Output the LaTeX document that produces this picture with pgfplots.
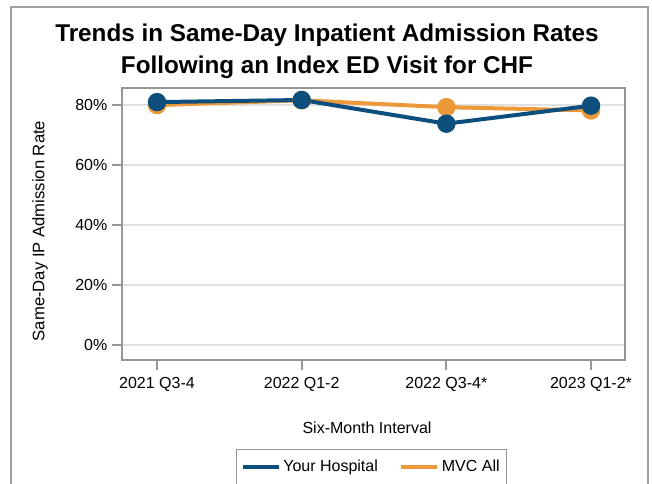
\documentclass[border=0pt]{standalone}
\usepackage{pgfplots}
\pgfplotsset{compat=1.18}
\usepackage{fontspec}
\setmainfont{Liberation Sans}
\definecolor{yh}{RGB}{13,79,124}
\definecolor{mvc}{RGB}{236,154,57}
\definecolor{framegray}{RGB}{160,160,160}
\definecolor{axgray}{RGB}{150,150,150}
\definecolor{gridgray}{RGB}{225,225,225}
\begin{document}
\begin{tikzpicture}
\useasboundingbox (0pt,0pt) rectangle (489pt,363pt);
\clip (0pt,0pt) rectangle (489pt,363pt);
\draw[framegray, line width=1.5pt] (8.25pt,357.75pt) rectangle (486pt,-20pt);
\node[font=\bfseries\fontsize{18.2}{24}\selectfont, align=center] at (245.25pt,324.75pt)
  {Trends in Same-Day Inpatient Admission Rates\\Following an Index ED Visit for CHF};
\node[rotate=90, font=\fontsize{12.5}{14}\selectfont] at (30pt,189.75pt) {Same-Day IP Admission Rate};
\node[font=\fontsize{12}{14}\selectfont] at (275.25pt,42pt) {Six-Month Interval};
\begin{axis}[
  at={(91.5pt,93pt)}, anchor=south west,
  width=377.25pt, height=204pt, scale only axis,
  xmin=-0.242, xmax=3.235, ymin=-5, ymax=85.7,
  xtick={0,1,2,3},
  xticklabels={2021 Q3-4,2022 Q1-2,2022 Q3-4*,2023 Q1-2*},
  ytick={0,20,40,60,80},
  yticklabel={\pgfmathprintnumber{\tick}\%},
  /pgf/number format/assume math mode=true,
  ticklabel style={font=\fontsize{12}{14}\selectfont},
  xtick pos=bottom, ytick pos=left,
  tick align=outside,
  major tick length=7.5pt,
  tick style={axgray, line width=1.5pt},
  axis line style={axgray, line width=1.5pt},
  ymajorgrids, major grid style={gridgray, line width=1.2pt},
  xticklabel style={yshift=-2pt},
  legend style={at={(0.2266,-0.327)}, anchor=north west, draw=axgray, line width=1pt,
    font=\fontsize{12}{14}\selectfont, inner ysep=6pt, inner xsep=3pt,
    /tikz/every even column/.append style={column sep=14pt}},
  legend columns=2,
  legend cell align=left,
]
\addlegendimage{legend image code/.code={\draw[yh, line width=3pt] (0pt,0pt) -- (27pt,0pt);}}
\addlegendentry{Your Hospital}
\addlegendimage{legend image code/.code={\draw[mvc, line width=3pt] (0pt,0pt) -- (27pt,0pt);}}
\addlegendentry{MVC All}
\addplot[mvc, line width=3pt, mark=*, mark size=5.4pt, forget plot] coordinates {(0,80.0) (1,81.6) (2,79.3) (3,78.2)};
\addplot[yh, line width=3pt, mark=*, mark size=5.4pt, forget plot] coordinates {(0,81.0) (1,81.7) (2,73.8) (3,79.8)};
\end{axis}
\end{tikzpicture}
\end{document}
